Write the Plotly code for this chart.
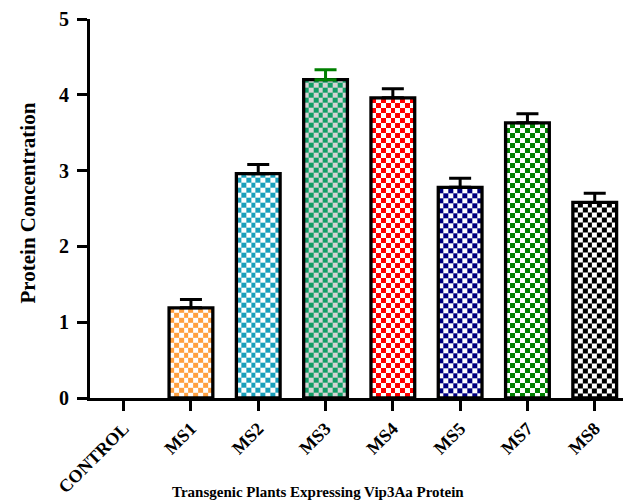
import numpy as np
import plotly.graph_objects as go

categories = ["CONTROL", "MS1", "MS2", "MS3", "MS4", "MS5", "MS7", "MS8"]
values = [0.0, 1.19, 2.96, 4.20, 3.96, 2.78, 3.63, 2.58]
errors = [0.0, 0.11, 0.12, 0.13, 0.12, 0.12, 0.12, 0.12]
fg_colors = ["#ffffff", "#ffa040", "#1aa0bb", "#139e66", "#ff0000", "#000080", "#008000", "#000000"]
bg_colors = ["#ffffff", "#ffffff", "#ffffff", "#d4d4d4", "#ffffff", "#ffffff", "#ffffff", "#ffffff"]
err_colors = ["#000000", "#000000", "#000000", "#008000", "#000000", "#000000", "#000000", "#000000"]

BAR_W = 0.65
NCOLS = 9
CELL_H = 0.066
FONT = "Liberation Serif"

# figure geometry (page has an 8px body margin)
W, H = 627, 494
ML, MR, MT, MB = 82, 12, 11, 104
PW, PH = W - ML - MR, H - MT - MB


def px(x, y):
    """figure pixel -> paper coords"""
    return (x - ML) / PW, (H - MB - y) / PH


fig = go.Figure()

# checkerboard fills (heatmaps under the bars)
for i, (v, fg, bg) in enumerate(zip(values, fg_colors, bg_colors)):
    if v <= 0:
        continue
    xe = np.linspace(i - BAR_W / 2, i + BAR_W / 2, NCOLS + 1)
    ye = list(np.arange(0, v, CELL_H))
    if v - ye[-1] < 1e-6:
        ye = ye[:-1]
    ye.append(v)
    nrows = len(ye) - 1
    z = [[(r + c) % 2 for c in range(NCOLS)] for r in range(nrows)]
    fig.add_trace(go.Heatmap(
        x=xe, y=ye, z=z, zmin=0, zmax=1,
        colorscale=[[0, bg], [1, fg]], showscale=False,
        hoverinfo="skip", zsmooth=False,
    ))

# bar outlines + error bars
for i, (c, v, e, ec) in enumerate(zip(categories, values, errors, err_colors)):
    fig.add_trace(go.Bar(
        x=[i], y=[v], width=BAR_W, name=c,
        marker=dict(color="rgba(0,0,0,0)",
                    line=dict(color="black", width=3.3 if v > 0 else 0)),
        error_y=dict(type="data", array=[e], arrayminus=[0], symmetric=False,
                     color=ec, thickness=3, width=11, visible=e > 0),
        showlegend=False,
    ))

xt_x, xt_y = px(309.5, 484)
yt_x, yt_y = px(19, 195.5)

fig.update_layout(
    width=W, height=H,
    margin=dict(l=ML, r=MR, t=MT, b=MB),
    plot_bgcolor="white", paper_bgcolor="white",
    font=dict(family=FONT, color="black"),
    xaxis=dict(
        range=[-0.5, 7.42], tickmode="array", tickvals=list(range(len(categories))),
        ticktext=["<b>%s</b>" % c for c in categories], tickangle=-45,
        tickfont=dict(size=18, family=FONT),
        showline=True, linecolor="black", linewidth=3,
        ticks="outside", ticklen=10, tickwidth=3, tickcolor="black",
        showgrid=False, zeroline=False, automargin=False,
    ),
    yaxis=dict(
        range=[0, 5], tickfont=dict(size=20, family=FONT),
        tickvals=[0, 1, 2, 3, 4, 5], ticktext=["<b>%d</b>" % t for t in range(6)],
        showline=True, linecolor="black", linewidth=3,
        ticks="outside", ticklen=10, tickwidth=3, tickcolor="black",
        ticklabelstandoff=4,
        showgrid=False, zeroline=False, automargin=False,
    ),
    annotations=[
        dict(
            text="<b>Transgenic Plants Expressing Vip3Aa Protein</b>",
            xref="paper", yref="paper", x=xt_x, y=xt_y,
            xanchor="center", yanchor="middle", showarrow=False,
            font=dict(size=15, family=FONT, color="black"),
        ),
        dict(
            text="<b>Protein Concentration</b>",
            xref="paper", yref="paper", x=yt_x, y=yt_y,
            xanchor="center", yanchor="middle", showarrow=False, textangle=-90,
            font=dict(size=21, family=FONT, color="black"),
        ),
    ],
)

fig.write_html("out.html")
